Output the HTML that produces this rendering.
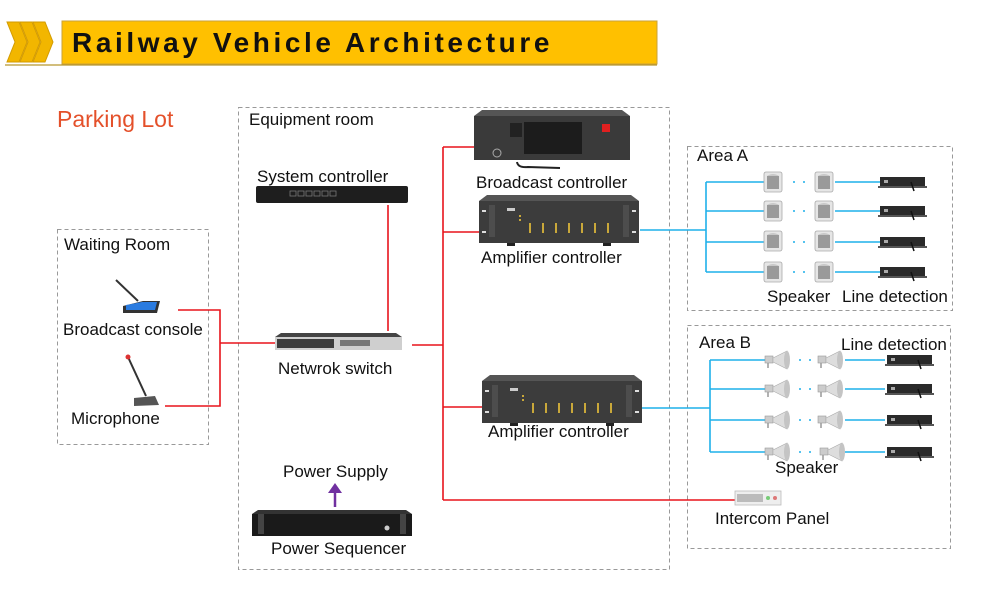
<!DOCTYPE html>
<html><head><meta charset="utf-8"><style>
html,body{margin:0;padding:0;background:#fff;}
svg{display:block;}
text{font-family:"Liberation Sans","DejaVu Sans",sans-serif;fill:#111;}
</style></head><body>
<svg width="1000" height="600" viewBox="0 0 1000 600" xmlns="http://www.w3.org/2000/svg">
<defs>
  <g id="spk">
    <rect x="0" y="0" width="18" height="20" rx="2" fill="#e6e6e6" stroke="#aaa" stroke-width="0.8"/>
    <rect x="3" y="4" width="12" height="13" fill="#9a9a9a"/>
    <path d="M3 4 Q9 0 15 4" fill="#c8c8c8"/>
  </g>
  <g id="horn">
    <rect x="0" y="3" width="8" height="7" fill="#ccc" stroke="#999" stroke-width="0.6"/>
    <path d="M8 5 L22 -2 L22 16 L8 9 Z" fill="#ddd" stroke="#aaa" stroke-width="0.6"/>
    <ellipse cx="22" cy="7" rx="3" ry="9" fill="#c4c4c4"/>
    <line x1="3" y1="10" x2="3" y2="15" stroke="#999" stroke-width="1.5"/>
  </g>
  <g id="det">
    <rect x="0" y="0" width="45" height="10" fill="#2a2a2a"/>
    <rect x="-2" y="9" width="49" height="2" fill="#555"/>
    <rect x="4" y="3" width="4" height="3" fill="#aaa"/>
    <line x1="31" y1="5" x2="34" y2="14" stroke="#111" stroke-width="1.5"/>
  </g>
  <g id="rack">
    <path d="M8 0 L152 0 L160 6 L0 6 Z" fill="#555"/>
    <rect x="0" y="6" width="160" height="42" fill="#3c3c3c"/>
    <rect x="10" y="10" width="6" height="32" fill="#4d4d4d"/>
    <rect x="144" y="10" width="6" height="32" fill="#4d4d4d"/>
    <rect x="3" y="15" width="4" height="2" fill="#ddd"/><rect x="3" y="36" width="4" height="2" fill="#ddd"/>
    <rect x="153" y="15" width="4" height="2" fill="#ddd"/><rect x="153" y="36" width="4" height="2" fill="#ddd"/>
    <g fill="#c9a83a">
      <rect x="40" y="20" width="2" height="2"/><rect x="40" y="24" width="2" height="2"/>
      <rect x="50" y="28" width="2" height="10"/><rect x="63" y="28" width="2" height="10"/>
      <rect x="76" y="28" width="2" height="10"/><rect x="89" y="28" width="2" height="10"/>
      <rect x="102" y="28" width="2" height="10"/><rect x="115" y="28" width="2" height="10"/>
      <rect x="128" y="28" width="2" height="10"/>
    </g>
    <rect x="28" y="13" width="8" height="3" fill="#ccc"/>
    <rect x="28" y="48" width="8" height="3" fill="#222"/><rect x="124" y="48" width="8" height="3" fill="#222"/>
  </g>
</defs>

<!-- header -->
<g fill="#f2b600" stroke="#d39b00" stroke-width="1">
  <path d="M7 22 L19 22 L27 42 L19 62 L7 62 L15 42 Z"/>
  <path d="M20 22 L32 22 L40 42 L32 62 L20 62 L28 42 Z"/>
  <path d="M33 22 L45 22 L53 42 L45 62 L33 62 L41 42 Z"/>
</g>
<rect x="62" y="21" width="595" height="43" fill="#ffc000" stroke="#c9a23a" stroke-width="1"/>
<line x1="5" y1="65" x2="657" y2="65" stroke="#b8962e" stroke-width="1.2"/>
<text x="72" y="52" font-size="28" font-weight="bold" letter-spacing="3.6" fill="#111">Railway Vehicle Architecture</text>

<text x="57" y="127" font-size="23" style="fill:#e4502a">Parking Lot</text>

<!-- dashed boxes -->
<g fill="none" stroke="#999" stroke-width="1" stroke-dasharray="4,3">
  <rect x="238.5" y="107.5" width="431" height="462"/>
  <rect x="57.5" y="229.5" width="151" height="215"/>
  <rect x="687.5" y="146.5" width="265" height="164"/>
  <rect x="687.5" y="325.5" width="263" height="223"/>
</g>

<!-- labels -->
<g font-size="17">
<text x="249" y="125">Equipment room</text>
<text x="64" y="250">Waiting Room</text>
<text x="63" y="335">Broadcast console</text>
<text x="71" y="424">Microphone</text>
<text x="257" y="182">System controller</text>
<text x="278" y="374">Netwrok switch</text>
<text x="283" y="477">Power Supply</text>
<text x="271" y="554">Power Sequencer</text>
<text x="476" y="188">Broadcast controller</text>
<text x="481" y="263">Amplifier controller</text>
<text x="488" y="437">Amplifier controller</text>
<text x="697" y="161">Area A</text>
<text x="767" y="302">Speaker</text>
<text x="842" y="302">Line detection</text>
<text x="699" y="348">Area B</text>
<text x="841" y="350">Line detection</text>
<text x="775" y="473">Speaker</text>
<text x="715" y="524">Intercom Panel</text>
</g>

<!-- red lines -->
<g stroke="#e8141c" stroke-width="1.6" fill="none">
  <polyline points="178,310 220,310 220,406 165,406"/>
  <line x1="220" y1="343" x2="275" y2="343"/>
  <line x1="388" y1="205" x2="388" y2="331"/>
  <line x1="412" y1="345" x2="443" y2="345"/>
  <line x1="443" y1="147" x2="443" y2="500"/>
  <line x1="443" y1="147" x2="474" y2="147"/>
  <line x1="443" y1="232" x2="479" y2="232"/>
  <line x1="443" y1="407" x2="482" y2="407"/>
  <line x1="443" y1="500" x2="735" y2="500"/>
</g>
<!-- purple arrow -->
<line x1="335" y1="507" x2="335" y2="492" stroke="#7030a0" stroke-width="2.5"/>
<path d="M328 493 L335 483 L342 493 Z" fill="#7030a0"/>

<!-- blue lines -->
<g stroke="#1fb0ea" stroke-width="1.6" fill="none">
  <line x1="640" y1="230" x2="706" y2="230"/>
  <line x1="706" y1="182" x2="706" y2="272"/>
  <line x1="706" y1="182" x2="765" y2="182"/><line x1="835" y1="182" x2="880" y2="182"/>
  <line x1="706" y1="211" x2="765" y2="211"/><line x1="835" y1="211" x2="880" y2="211"/>
  <line x1="706" y1="242" x2="765" y2="242"/><line x1="835" y1="242" x2="880" y2="242"/>
  <line x1="706" y1="272" x2="765" y2="272"/><line x1="835" y1="272" x2="880" y2="272"/>
  <line x1="642" y1="408" x2="710" y2="408"/>
  <line x1="710" y1="360" x2="710" y2="452"/>
  <line x1="710" y1="360" x2="765" y2="360"/><line x1="845" y1="360" x2="885" y2="360"/>
  <line x1="710" y1="389" x2="765" y2="389"/><line x1="845" y1="389" x2="885" y2="389"/>
  <line x1="710" y1="420" x2="765" y2="420"/><line x1="845" y1="420" x2="885" y2="420"/>
  <line x1="710" y1="452" x2="765" y2="452"/><line x1="845" y1="452" x2="885" y2="452"/>
</g>
<g fill="#1fb0ea">
  <circle cx="794" cy="182" r="1"/><circle cx="804" cy="182" r="1"/>
  <circle cx="794" cy="211" r="1"/><circle cx="804" cy="211" r="1"/>
  <circle cx="794" cy="242" r="1"/><circle cx="804" cy="242" r="1"/>
  <circle cx="794" cy="272" r="1"/><circle cx="804" cy="272" r="1"/>
  <circle cx="800" cy="360" r="1"/><circle cx="810" cy="360" r="1"/>
  <circle cx="800" cy="389" r="1"/><circle cx="810" cy="389" r="1"/>
  <circle cx="800" cy="420" r="1"/><circle cx="810" cy="420" r="1"/>
  <circle cx="800" cy="452" r="1"/><circle cx="810" cy="452" r="1"/>
</g>

<!-- Area A devices -->
<use href="#spk" x="764" y="172"/><use href="#spk" x="815" y="172"/><use href="#det" x="880" y="177"/>
<use href="#spk" x="764" y="201"/><use href="#spk" x="815" y="201"/><use href="#det" x="880" y="206"/>
<use href="#spk" x="764" y="231"/><use href="#spk" x="815" y="231"/><use href="#det" x="880" y="237"/>
<use href="#spk" x="764" y="262"/><use href="#spk" x="815" y="262"/><use href="#det" x="880" y="267"/>
<!-- Area B devices -->
<use href="#horn" x="765" y="353"/><use href="#horn" x="818" y="353"/><use href="#det" x="887" y="355"/>
<use href="#horn" x="765" y="382"/><use href="#horn" x="818" y="382"/><use href="#det" x="887" y="384"/>
<use href="#horn" x="765" y="413"/><use href="#horn" x="818" y="413"/><use href="#det" x="887" y="415"/>
<use href="#horn" x="765" y="445"/><use href="#horn" x="820" y="445"/><use href="#det" x="887" y="447"/>

<!-- intercom -->
<rect x="735" y="491" width="46" height="14" fill="#eee" stroke="#bbb" stroke-width="0.8"/>
<rect x="737" y="494" width="26" height="8" fill="#bbb"/>
<circle cx="768" cy="498" r="2" fill="#7c7"/><circle cx="775" cy="498" r="2" fill="#d77"/>

<!-- racks -->
<use href="#rack" x="479" y="195"/>
<use href="#rack" x="482" y="375"/>
<!-- broadcast controller -->
<path d="M482 110 L622 110 L630 116 L474 116 Z" fill="#555"/>
<rect x="474" y="116" width="156" height="44" fill="#3a3a3a"/>
<rect x="524" y="122" width="58" height="32" fill="#1c1c1c"/>
<rect x="602" y="124" width="8" height="8" fill="#e02020"/>
<rect x="510" y="123" width="12" height="14" fill="#222"/>
<circle cx="497" cy="153" r="4" fill="none" stroke="#aaa" stroke-width="1"/>
<path d="M517 162 Q518 168 528 167 L560 168" stroke="#222" stroke-width="2" fill="none"/>
<!-- system controller -->
<rect x="256" y="186" width="152" height="17" rx="2" fill="#1e1e1e"/>
<g fill="none" stroke="#777" stroke-width="0.8">
  <rect x="290" y="191" width="6" height="5"/><rect x="298" y="191" width="6" height="5"/><rect x="306" y="191" width="6" height="5"/>
  <rect x="314" y="191" width="6" height="5"/><rect x="322" y="191" width="6" height="5"/><rect x="330" y="191" width="6" height="5"/>
</g>
<!-- switch -->
<path d="M281 333 L396 333 L402 337 L275 337 Z" fill="#444"/>
<rect x="275" y="337" width="127" height="13" fill="#cfcfcf"/>
<rect x="277" y="339" width="57" height="9" fill="#3c3c3c"/>
<rect x="340" y="340" width="30" height="6" fill="#777"/>
<!-- power sequencer -->
<path d="M258 510 L406 510 L412 514 L252 514 Z" fill="#333"/>
<rect x="252" y="514" width="160" height="22" fill="#1a1a1a"/>
<rect x="258" y="514" width="6" height="20" fill="#444"/><rect x="400" y="514" width="6" height="20" fill="#444"/>
<circle cx="387" cy="528" r="2.5" fill="#ccc"/>
<!-- broadcast console -->
<line x1="116" y1="280" x2="138" y2="301" stroke="#333" stroke-width="2"/>
<path d="M123 306 L143 301 L160 301 L157 313 L123 313 Z" fill="#333"/>
<path d="M126 305 L142 302 L157 302 L155 310 L126 310 Z" fill="#2a7be0"/>
<!-- microphone -->
<line x1="128" y1="357" x2="146" y2="396" stroke="#333" stroke-width="2"/>
<circle cx="128" cy="357" r="2.5" fill="#d33"/>
<path d="M134 398 L155 396 L159 405 L134 406 Z" fill="#555"/>
</svg>
</body></html>
